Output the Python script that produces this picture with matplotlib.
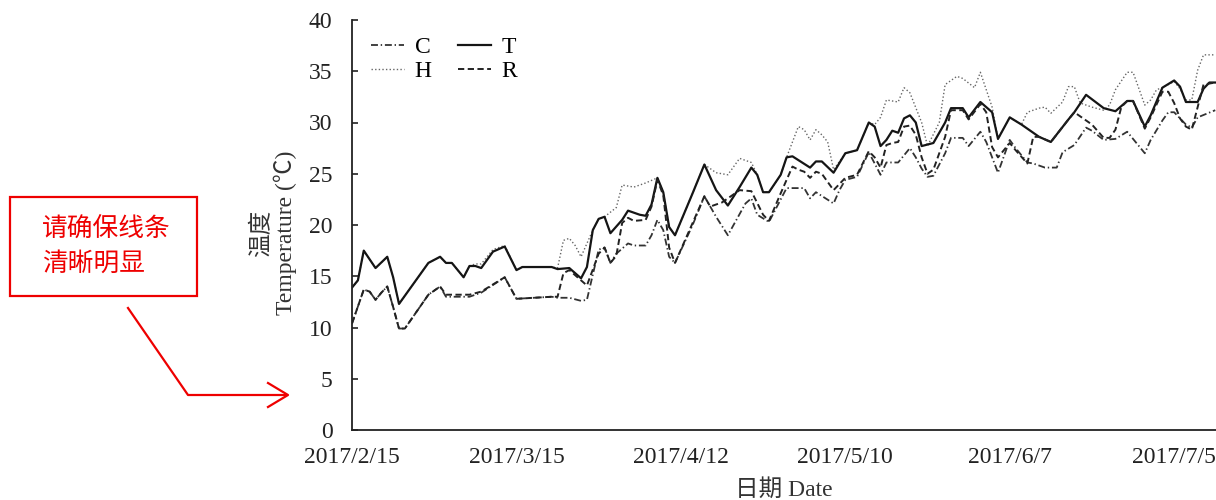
import numpy as np
import pandas as pd
import matplotlib
matplotlib.use("Agg")
import matplotlib.pyplot as plt
from matplotlib.patches import Rectangle

plt.rcParams["font.family"] = ["Liberation Serif", "Noto Sans CJK SC", "DejaVu Sans"]
plt.rcParams["lines.scale_dashes"] = False

start = pd.Timestamp("2017-02-15")

# days after 2017/2/15 and temperature (deg C) for each treatment
t_days = [0, 1, 2, 4, 6, 7, 8, 13, 15, 16, 17, 19, 20, 21, 22, 24, 26, 28, 29,
          34, 35, 37, 39, 40, 41, 42, 43, 44, 46, 47, 49, 50, 51, 52, 53, 54, 55,
          58, 60, 62, 64, 66, 68, 69, 70, 71, 73, 74, 75, 78, 79, 80, 82, 84, 86,
          88, 89, 90, 91, 92, 93, 94, 95, 96, 97, 99,
          101, 102, 104, 105, 107, 109, 110, 112, 114, 116, 117, 119, 122, 123,
          125, 128, 130, 132, 133, 135, 136, 138, 140, 141, 142, 144, 145, 146, 147]
t_vals = [13.9, 14.6, 17.5, 15.8, 16.9, 14.9, 12.3, 16.3, 16.9, 16.3, 16.3, 14.9,
          16.0, 16.0, 15.8, 17.4, 17.9, 15.6, 15.9,
          15.9, 15.7, 15.8, 14.8, 15.9, 19.5, 20.6, 20.8, 19.2, 20.5, 21.4, 21.0,
          20.9, 22.0, 24.6, 23.2, 19.8, 19.0,
          23.1, 25.9, 23.4, 21.9, 23.7, 25.6, 24.9, 23.2, 23.2, 24.9, 26.6, 26.7,
          25.6, 26.2, 26.2, 25.1, 27.0, 27.3, 30.0, 29.6, 27.7, 28.3, 29.2, 29.0,
          30.4, 30.7, 30.0, 27.7, 28.0,
          30.0, 31.4, 31.4, 30.5, 32.0, 31.0, 28.4, 30.5, 29.8, 29.0, 28.6, 28.1,
          30.3, 31.0, 32.7, 31.4, 31.1, 32.1, 32.1, 29.6, 30.7, 33.4, 34.1, 33.5,
          32.0, 32.0, 33.3, 33.9, 33.9]

h_days = [0, 1, 2, 4, 6, 7, 8, 13, 15, 16, 17, 19, 20, 21, 22, 24, 26, 28, 29,
          34, 35, 36, 37, 38, 39, 41, 42, 43, 45, 46, 48, 50, 52, 53, 54, 55,
          58, 60, 62, 64, 66, 68, 69, 70, 71, 73, 74, 76, 77, 78, 79, 80, 81, 82,
          84, 86, 88, 89, 90, 91, 93, 94, 95, 97, 98,
          100, 101, 103, 104, 106, 107, 109, 110, 112, 114, 115, 117, 118, 119,
          121, 122, 123, 124, 126, 128, 129, 130, 132, 133, 135, 136, 137, 138,
          140, 141, 142, 143, 144, 145, 147]
h_vals = [13.9, 14.6, 17.5, 15.8, 16.9, 14.9, 12.3, 16.3, 16.9, 16.3, 16.3, 14.9,
          16.0, 16.2, 16.2, 17.6, 18.0, 15.6, 15.9,
          15.9, 15.8, 18.5, 18.7, 18.0, 16.9, 19.5, 20.6, 20.8, 21.7, 23.9, 23.7,
          24.1, 24.6, 23.2, 19.8, 19.0,
          23.1, 25.9, 25.1, 24.9, 26.5, 26.1, 24.9, 23.2, 23.2, 24.9, 26.6, 29.6,
          29.3, 28.3, 29.3, 28.8, 28.1, 25.4, 27.0, 27.3, 30.0, 29.8, 30.5, 32.2,
          32.0, 33.4, 32.9, 30.0, 27.7,
          30.0, 33.7, 34.5, 34.3, 33.4, 34.9, 31.5, 28.4, 30.5, 29.8, 31.0, 31.4,
          31.5, 30.9, 32.0, 33.5, 33.5, 31.9, 31.5, 31.2, 31.7, 33.2, 34.9, 34.9,
          31.7, 32.2, 33.2, 33.4, 34.0, 33.3, 32.2, 32.2, 35.1, 36.6, 36.6]

r_days = [0, 2, 3, 4, 5, 6, 7, 8, 9, 13, 15, 16, 20, 22, 26, 28,
          34, 35, 36, 37, 39, 40, 42, 43, 44, 45, 46, 47, 48, 50, 51, 52, 53, 54, 55,
          58, 60, 61, 63, 66, 68, 70, 71, 73, 75, 76, 77, 78, 79, 80, 82, 84, 86,
          88, 89, 90, 91, 92, 93, 94, 95, 96, 97, 98, 99,
          101, 102, 104, 105, 107, 108, 109, 110, 112, 113, 115, 116, 117, 119,
          122, 123, 126, 128, 129, 130, 131, 132, 133, 135, 136, 138, 139, 140,
          141, 142, 143, 144, 145, 147]
r_vals = [10.4, 13.7, 13.5, 12.7, 13.4, 14.0, 12.0, 9.9, 9.9, 13.2, 14.0, 13.2,
          13.2, 13.5, 14.9, 12.8,
          13.0, 13.0, 15.3, 15.6, 14.6, 14.1, 17.2, 17.8, 16.3, 17.0, 20.2, 20.7,
          20.4, 20.5, 21.8, 24.4, 22.9, 17.8, 16.3,
          20.2, 22.8, 21.8, 22.2, 23.4, 23.3, 21.0, 20.4, 23.1, 25.7, 25.4, 25.2,
          24.6, 25.2, 25.0, 23.4, 24.6, 24.9, 27.2, 26.6, 25.6, 27.8, 28.0, 28.1,
          29.6, 29.7, 28.8, 26.6, 25.0, 25.4,
          28.6, 31.2, 31.2, 30.3, 31.8, 31.0, 27.6, 26.6, 28.0, 27.3, 26.0, 28.6,
          28.6, 28.1, 30.3, 31.0, 29.8, 28.5, 28.5, 29.3, 31.5, 32.1, 32.1, 29.4,
          30.5, 33.0, 33.0, 31.9, 30.4, 29.6, 29.3, 31.5, 33.7, 33.9]

c_days = [0, 2, 3, 4, 5, 6, 7, 8, 9, 13, 15, 16, 20, 22, 26, 28,
          34, 35, 37, 39, 40, 42, 43, 44, 45, 47, 48, 50, 51, 52, 53, 54, 55,
          58, 60, 62, 64, 67, 68, 69, 71, 74, 77, 78, 79, 82, 83, 84, 86, 88, 90,
          91, 93, 95, 96, 97, 98, 99,
          101, 102, 104, 105, 107, 108, 110, 112, 113, 115, 116, 118, 120, 121,
          123, 125, 126, 128, 130, 132, 135, 136, 138, 139, 140, 142, 143, 144, 147]
c_vals = [10.4, 13.7, 13.5, 12.7, 13.4, 14.0, 12.0, 9.9, 9.9, 13.2, 14.0, 13.0,
          13.0, 13.4, 14.9, 12.8,
          13.0, 12.9, 12.9, 12.6, 12.7, 17.6, 17.8, 16.3, 17.2, 18.2, 18.0, 18.0,
          19.0, 20.5, 19.5, 16.9, 16.3,
          20.0, 22.8, 20.8, 19.0, 22.1, 22.6, 21.0, 20.3, 23.6, 23.6, 22.6, 23.2,
          22.1, 23.4, 24.4, 24.7, 27.1, 24.9, 26.1, 26.1, 27.5, 26.6, 25.5, 24.7,
          24.8,
          27.0, 28.5, 28.5, 27.7, 29.1, 28.1, 25.1, 28.3, 27.5, 26.1, 26.0, 25.6,
          25.6, 27.1, 27.8, 29.5, 29.2, 28.3, 28.4, 29.1, 27.0, 28.3, 30.2, 31.0,
          31.0, 29.8, 29.5, 30.5, 31.2]

tick_labels = ["2017/2/15", "2017/3/15", "2017/4/12", "2017/5/10", "2017/6/7", "2017/7/5"]
y_ticks = [0, 5, 10, 15, 20, 25, 30, 35, 40]


def to_dates(days):
    return start + pd.to_timedelta(days, unit="D")


fig = plt.figure(figsize=(12.16, 5), dpi=100)
ax = fig.add_axes([0.2895, 0.14, 0.7105, 0.82])

ax.plot(to_dates(c_days), c_vals, color="#333333", lw=1.3, dashes=(5, 2, 1, 2), label="C")
ax.plot(to_dates(h_days), h_vals, color="#666666", lw=1.0, dashes=(1, 1.6), label="H")
ax.plot(to_dates(t_days), t_vals, color="#151515", lw=1.6, ls="-", label="T")
ax.plot(to_dates(r_days), r_vals, color="#222222", lw=1.4, dashes=(4.5, 2.5), label="R")

ax.set_ylim(0, 40)
ax.set_yticks(y_ticks)
ax.set_xlim(start, start + pd.Timedelta(hours=147 * 24 + 3))
ax.set_xticks(pd.to_datetime(tick_labels, format="%Y/%m/%d"))
ax.set_xticklabels(tick_labels)

for s in ["top", "right"]:
    ax.spines[s].set_visible(False)
for s in ["left", "bottom"]:
    ax.spines[s].set_linewidth(1.3)
    ax.spines[s].set_color("#222222")

ax.tick_params(axis="y", direction="in", length=4, width=1.2, pad=14,
               labelsize=17, colors="#222222")
ax.tick_params(axis="x", length=0, pad=12, labelsize=17, colors="#222222")

ax.set_ylabel("温度\nTemperature (℃)", fontsize=17, color="#333333", linespacing=1.0)
ax.yaxis.set_label_coords(-0.064, 0.48)
ax.set_xlabel("日期 Date", fontsize=17, color="#333333", labelpad=8)

ax.legend(loc="upper left", bbox_to_anchor=(0.022, 0.96), ncol=2, frameon=False,
          fontsize=17, handlelength=1.4, handletextpad=0.45, columnspacing=1.1,
          labelspacing=0.12, borderpad=0, borderaxespad=0)

# red reminder box and arrow drawn on an overlay in pixel units
ov = fig.add_axes([0, 0, 1, 1], zorder=5)
ov.set_xlim(0, 1216)
ov.set_ylim(500, 0)
ov.axis("off")
red = "#ee0000"
ov.add_patch(Rectangle((10, 197), 187, 99, fill=False, ec=red, lw=1.6))
ov.text(42, 247, "请确保线条\n清晰明显", color=red, fontsize=18.5,
        family=["Noto Sans CJK SC"], ha="left", va="center", linespacing=1.4)
ov.plot([128, 188, 286], [308, 395, 395], color=red, lw=1.6)
ov.plot([268, 288, 268], [383, 395, 407], color=red, lw=1.6)

fig.savefig("out.png", dpi=100)
